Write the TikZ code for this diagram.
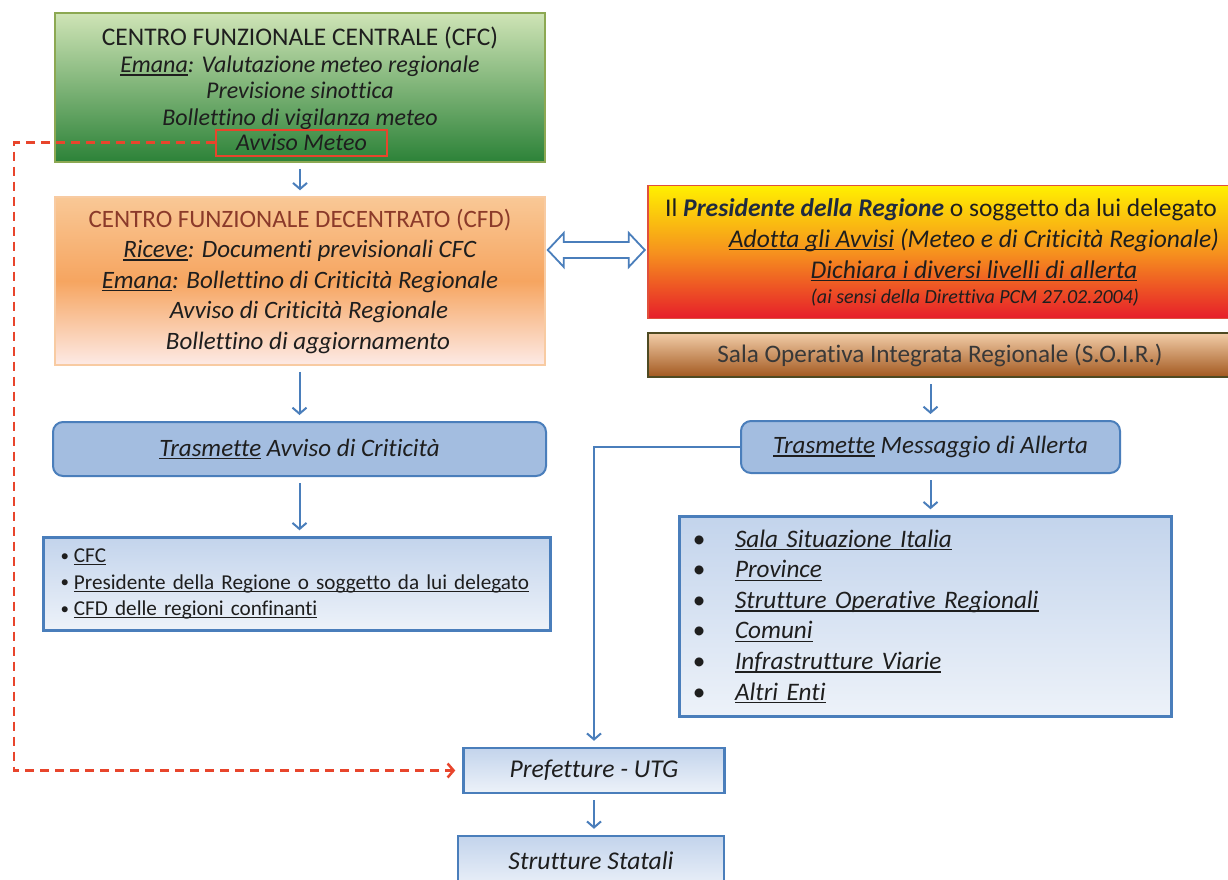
\documentclass[tikz,border=0pt]{standalone}
\usepackage{fontspec}
\setmainfont[Ligatures={NoCommon}]{Carlito}
\usepackage{tikz}
\usetikzlibrary{arrows.meta,calc}

\newcommand{\uln}[1]{\setbox0\hbox{#1}\rlap{\rule[-0.13em]{\wd0}{0.055em}}\box0\relax}
\newcommand{\dotmark}{\raisebox{1.5pt}{\scalebox{0.8}{\textbullet}}}

\definecolor{cfctop}{HTML}{CFE4B6}
\definecolor{cfcbot}{HTML}{2C8238}
\definecolor{cfcedge}{HTML}{8CA852}
\definecolor{cfdtop}{HTML}{F9C896}
\definecolor{cfdmid}{HTML}{F6A560}
\definecolor{cfdbot}{HTML}{FDEAE6}
\definecolor{cfdedge}{HTML}{F8CBA2}
\definecolor{cfdtitle}{HTML}{8B3A2A}
\definecolor{prestop}{HTML}{FFF000}
\definecolor{presmid}{HTML}{F6921E}
\definecolor{presbot}{HTML}{E61E2A}
\definecolor{presedge}{HTML}{E0503C}
\definecolor{presink}{HTML}{1F2A40}
\definecolor{soirtop}{HTML}{F2CDA8}
\definecolor{soirbot}{HTML}{A2581F}
\definecolor{soiredge}{HTML}{4E4A22}
\definecolor{bluefill}{HTML}{A3BDE0}
\definecolor{blueedge}{HTML}{4A7EBB}
\definecolor{listtop}{HTML}{C3D4EC}
\definecolor{listbot}{HTML}{EDF2F9}
\definecolor{dashred}{HTML}{E8452C}
\definecolor{inktext}{HTML}{1E1E1E}

\begin{document}
\begin{tikzpicture}[x=1pt,y=-1pt,
    every node/.style={text=inktext, inner sep=0pt},
    cfcbox/.style={draw=cfcedge, line width=1.5pt, top color=cfctop, bottom color=cfcbot,
        minimum width=490pt, minimum height=149pt},
    cfdbox/.style={draw=cfdedge, line width=1.5pt, top color=cfdtop, bottom color=cfdbot, middle color=cfdmid,
        minimum width=490pt, minimum height=168pt, align=center, font=\fontsize{25}{30.5}\selectfont},
    presbox/.style={draw=presedge, line width=1.5pt, top color=prestop, bottom color=presbot, middle color=presmid,
        minimum width=592pt, minimum height=133pt, align=center, font=\fontsize{25.5}{31}\selectfont},
    soirbox/.style={draw=soiredge, line width=2pt, top color=soirtop, bottom color=soirbot,
        minimum width=592pt, minimum height=44pt, font=\fontsize{25.2}{28}\selectfont, text=black!78},
    sendbox/.style={draw=blueedge, line width=2pt, fill=bluefill, rounded corners=10pt,
        font=\fontsize{25}{28}\selectfont},
    listbox/.style={draw=blueedge, line width=2.5pt, top color=listtop, bottom color=listbot},
    plainbox/.style={listbox, minimum width=261pt, minimum height=45pt, font=\fontsize{25.6}{28}\selectfont\itshape},
    redbox/.style={draw=dashred, line width=2pt, minimum width=171pt, minimum height=26pt,
        font=\fontsize{24}{28}\selectfont\itshape},
    flow/.style={draw=blueedge, line width=2pt, -{Straight Barb[length=6pt,width=14pt]},
        shorten <=6pt, shorten >=6pt},
    meteo/.style={draw=dashred, line width=2.5pt, dash pattern=on 9pt off 6pt,
        -{Straight Barb[length=6pt,width=14pt]}, shorten >=7pt}
]
\clip (0,0) rectangle (1228,879);
\useasboundingbox (0,0) rectangle (1228,879);
\fill[white] (0,0) rectangle (1228,879);

% left column
\node[cfcbox] (cfc) at (300,87.5) {};
\node[anchor=north, align=center, font=\fontsize{24}{26.6}\selectfont] (cfctxt) at (300,27)
    {{\fontsize{25.4}{26.6}\selectfont CENTRO FUNZIONALE CENTRALE (CFC)}\\
     \textit{\uln{Emana}: Valutazione meteo regionale}\\
     \textit{Previsione sinottica}\\
     \textit{Bollettino di vigilanza meteo}};
\node[redbox] (avviso) at (301.5,142.5) {Avviso Meteo};

\node[cfdbox] (cfd) at (300,281)
    {\textcolor{cfdtitle}{CENTRO FUNZIONALE DECENTRATO (CFD)}\\
     \textit{\uln{Riceve}: Documenti previsionali CFC}\\
     \textit{\uln{Emana}: Bollettino di Criticità Regionale}\\
     \hspace*{18pt}\textit{Avviso di Criticità Regionale}\\
     \hspace*{16pt}\textit{Bollettino di aggiornamento}};

\node[sendbox, minimum width=493pt, minimum height=54pt] (tavv) at (299.5,449)
    {\textit{\uln{Trasmette} Avviso di Criticità}};

\node[listbox, minimum width=507pt, minimum height=93pt, text width=473pt, align=left,
      font=\fontsize{21.2}{26.5}\selectfont] (llist) at (297,584)
    {\dotmark\hspace{5pt}\uln{CFC}\\
     \dotmark\hspace{5pt}\uln{Presidente della Regione o soggetto da lui delegato}\\
     \dotmark\hspace{5pt}\uln{CFD delle regioni confinanti}};

% right column
\node[presbox] (pres) at (944,252)
    {\hspace*{-6pt}Il \textcolor{presink}{\textbf{\textit{Presidente della Regione}}} o soggetto da lui delegato\\
     \hspace*{60pt}\textit{\uln{Adotta gli Avvisi} (Meteo e di Criticità Regionale)}\\
     \hspace*{60pt}\textit{\uln{Dichiara i diversi livelli di allerta}}\\[-6pt]
     \hspace*{62pt}{\fontsize{20}{22}\selectfont\textit{(ai sensi della Direttiva PCM 27.02.2004)}}};

\node[soirbox] (soir) at (944,355) {\hspace*{-8pt}Sala Operativa Integrata Regionale (S.O.I.R.)};

\node[sendbox, minimum width=379pt, minimum height=52pt] (tmsg) at (930.5,447)
    {\textit{\uln{Trasmette} Messaggio di Allerta}};

\node[listbox, minimum width=492pt, minimum height=200pt, text width=468pt, align=left,
      font=\fontsize{25.2}{30.6}\selectfont\itshape] (rlist) at (925.5,616.5)
    {\makebox[43.5pt][l]{\hspace*{1pt}\textbullet}\uln{Sala Situazione Italia}\\
     \makebox[43.5pt][l]{\hspace*{1pt}\textbullet}\uln{Province}\\
     \makebox[43.5pt][l]{\hspace*{1pt}\textbullet}\uln{Strutture Operative Regionali}\\
     \makebox[43.5pt][l]{\hspace*{1pt}\textbullet}\uln{Comuni}\\
     \makebox[43.5pt][l]{\hspace*{1pt}\textbullet}\uln{Infrastrutture Viarie}\\
     \makebox[43.5pt][l]{\hspace*{1pt}\textbullet}\uln{Altri Enti}};

% bottom
\node[plainbox] (pref) at (594,770.5) {Prefetture - UTG};
\node[plainbox, minimum width=266pt, minimum height=54pt] (stat) at (591,863) {\raisebox{4pt}{Strutture Statali}};

% connectors
\draw[flow] (cfc.south) -- (cfd.north);
\draw[flow] (cfd.south -| tavv.north) -- (tavv.north);
\draw[flow] (tavv.south) -- (tavv.south |- llist.north);
\draw[flow] (soir.south -| tmsg.north) -- (tmsg.north);
\draw[flow] (tmsg.south) -- (tmsg.south |- rlist.north);
\draw[flow, shorten <=0pt] (tmsg.west) -| (pref.north);
\draw[flow] (pref.south) -- (pref.south |- stat.north);

\draw[draw=blueedge, line width=1.8pt, fill=white]
    ($(cfd.east)+(2,-31)$) coordinate (dbl) -- ++(16,-17) -- ++(0,9) -- ++(65,0) -- ++(0,-9)
    -- ++(16,17) -- ++(-16,17) -- ++(0,-9) -- ++(-65,0) -- ++(0,9) -- cycle;

\coordinate (dcorner) at (14,142.5);
\draw[meteo] (avviso.west) -| (dcorner) |- (pref.west);
\end{tikzpicture}
\end{document}
